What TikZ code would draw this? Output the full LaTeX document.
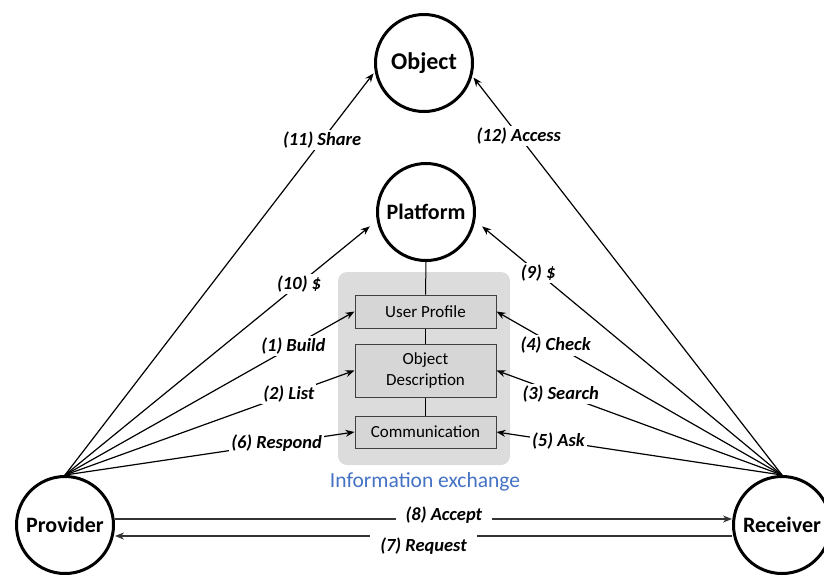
\documentclass[tikz,border=0pt]{standalone}
\usepackage{fontspec}
\setmainfont{Carlito}
\usetikzlibrary{arrows.meta}
\definecolor{boxgray}{HTML}{DCDCDC}
\definecolor{innergray}{HTML}{D6D6D6}
\definecolor{infoblue}{HTML}{4472C4}
\begin{document}
\begin{tikzpicture}[x=1pt,y=-1pt,
  actor/.style={circle, draw, line width=3pt, minimum size=97pt, inner sep=0pt,
    font=\bfseries\fontsize{22}{24}\selectfont},
  part/.style={draw=black!75, fill=innergray, line width=1pt, minimum width=141pt,
    inner sep=0pt, align=center, font=\fontsize{17}{21}\selectfont},
  flow/.style={line width=1.2pt, -{Stealth[length=9pt,width=7pt]}},
  hflow/.style={draw=black!80, line width=1.5pt, -{Stealth[length=9pt,width=7pt]}},
  lab/.style={fill=white, inner sep=2pt, font=\bfseries\itshape\fontsize{18.5}{20}\selectfont},
]
\useasboundingbox (0,0) rectangle (824,574);

% actors
\node[actor, font=\bfseries\fontsize{24}{26}\selectfont] (Object) at (424,63) {Object};
\node[actor] (Platform) at (426,212) {Platform};
\node[actor] (Provider) at (65,525)  {Provider};
\node[actor] (Receiver) at (782,525) {Receiver};

% information exchange
\node[fill=boxgray, rounded corners=9pt, minimum width=172pt, minimum height=193pt] (Info) at (424,368.5) {};
\node[part, minimum height=33pt] (UP) at (425.5,311.5) {User Profile};
\node[part, minimum height=53pt] (OD) at (425.5,370.5) {Object\\Description};
\node[part, minimum height=32pt] (CM) at (425.5,432) {Communication};
\node[text=infoblue, font=\fontsize{21.5}{24}\selectfont] (InfoLabel) at (425,482) {Information exchange};

\draw[line width=1pt] (Platform.south) -- (UP.north);
\draw[line width=1pt] (UP.south) -- (OD.north);
\draw[line width=1pt] (OD.south) -- (CM.north);

% provider arrows
\draw[flow, shorten >=2pt] (Provider.north) -- node[lab, pos=0.83] (L11) {(11) Share} (Object.190);
\draw[flow, shorten >=9pt] (Provider.north) -- node[lab, pos=0.751] (L10) {(10) \$} (Platform.190);
\draw[flow] (Provider.north) -- node[lab, pos=0.789] (L1) {(1) Build} (UP.west);
\draw[flow] (Provider.north) -- node[lab, pos=0.773] (L2) {(2) List} (OD.west);
\draw[flow] (Provider.north) -- node[lab, pos=0.731] (L6) {(6) Respond} (CM.west);

% receiver arrows
\draw[flow, shorten >=2pt] (Receiver.north) -- node[lab, pos=0.85] (L12) {(12) Access} (Object.-15);
\draw[flow, shorten >=9pt] (Receiver.north) -- node[lab, pos=0.795] (L9) {(9) \$} (Platform.-10);
\draw[flow] (Receiver.north) -- node[lab, pos=0.793] (L4) {(4) Check} (UP.east);
\draw[flow] (Receiver.north) -- node[lab, pos=0.775] (L3) {(3) Search} (OD.east);
\draw[flow] (Receiver.north) -- node[lab, pos=0.783] (L5) {(5) Ask} (CM.east);

% horizontal arrows
\draw[hflow] ([yshift=6pt]Provider.east) -- node[lab, pos=0.533, yshift=4pt, inner xsep=10pt] (L8) {(8) Accept} ([yshift=6pt]Receiver.west);
\draw[hflow] ([yshift=-11pt]Receiver.west) -- node[lab, pos=0.5, yshift=-10pt, inner xsep=10pt, inner ysep=4pt] (L7) {(7) Request} ([yshift=-11pt]Provider.east);
\end{tikzpicture}
\end{document}
